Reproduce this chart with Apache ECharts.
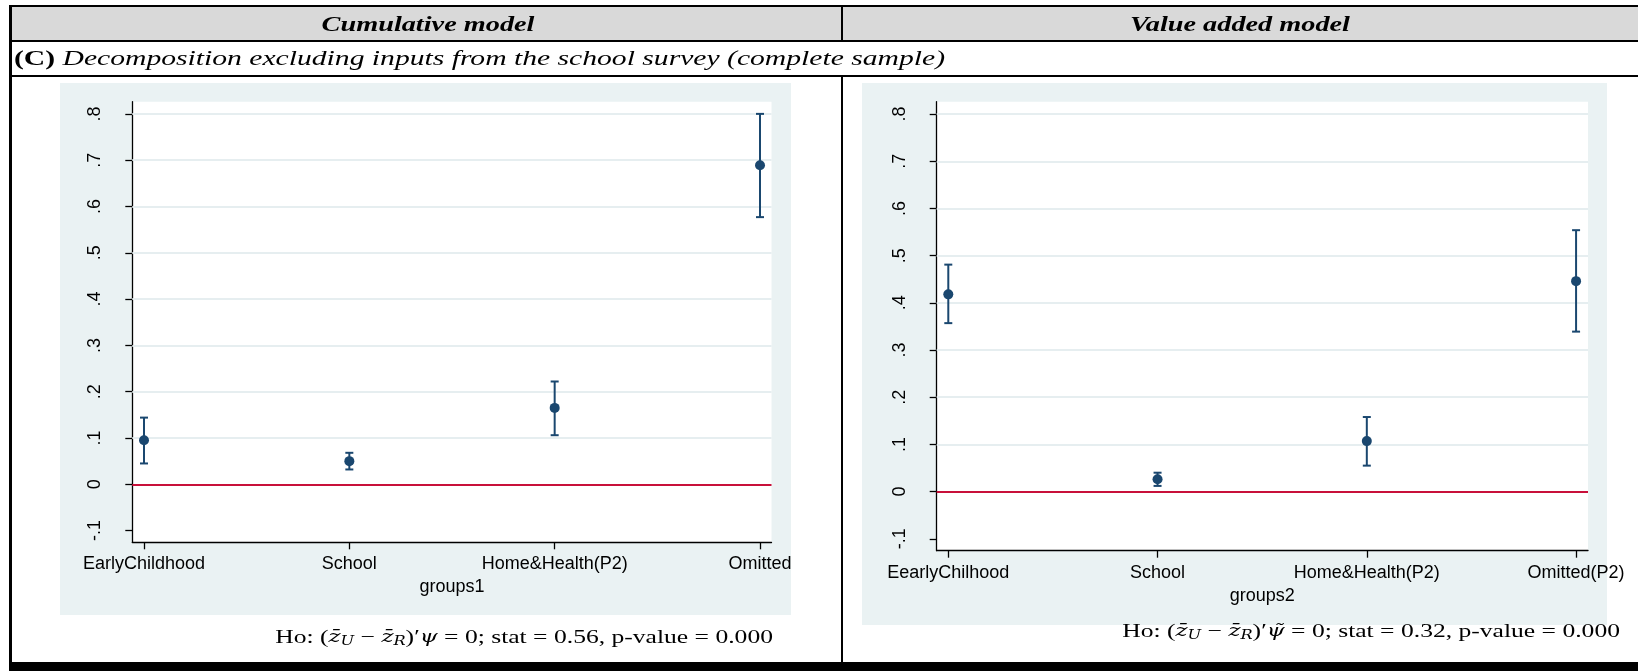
<!DOCTYPE html>
<html><head><meta charset="utf-8">
<script src="https://cdn.jsdelivr.net/npm/echarts@6/dist/echarts.min.js"></script>
<style>html,body{margin:0;padding:0;background:#fff}#c{width:1638px;height:671px}</style>
</head><body><div id="c"></div>
<script>
// ---------------- data ----------------
const categories1 = ['EarlyChildhood', 'School', 'Home&Health(P2)', 'Omitted'];
const categories2 = ['EearlyChilhood', 'School', 'Home&Health(P2)', 'Omitted(P2)'];
const xPos = [1, 2, 3, 4];
const est1 = [0.095, 0.050, 0.165, 0.689];
const lo1  = [0.045, 0.032, 0.106, 0.577];
const hi1  = [0.144, 0.068, 0.222, 0.800];
const est2 = [0.418, 0.026, 0.107, 0.446];
const lo2  = [0.357, 0.012, 0.055, 0.339];
const hi2  = [0.481, 0.040, 0.158, 0.554];
const yTickValues = [-0.1, 0, 0.1, 0.2, 0.3, 0.4, 0.5, 0.6, 0.7, 0.8];
const yTickLabels = ['-.1', '0', '.1', '.2', '.3', '.4', '.5', '.6', '.7', '.8'];
const gridValues = [0.1, 0.2, 0.3, 0.4, 0.5, 0.6, 0.7, 0.8];
const refValues = [0];
const xTitle1 = 'groups1';
const xTitle2 = 'groups2';
const headerLeft = 'Cumulative model';
const headerRight = 'Value added model';
const panelLabel = '(C)';
const panelTitle = ' Decomposition excluding inputs from the school survey (complete sample)';
const stat1 = 'stat = 0.56, p-value = 0.000';
const stat2 = 'stat = 0.32, p-value = 0.000';

// ---------------- style ----------------
const NAVY = '#1a476f';
const RED = '#c8103a';
const PANEL = '#eaf2f3';
const GRIDC = '#e6eef0';
const SANS = 'Liberation Sans, Arial, sans-serif';
const SERIF = 'Liberation Serif, Times New Roman, serif';
const MATH = 'DejaVu Serif, Liberation Serif, serif';

const chart = echarts.init(document.getElementById('c'), null, {renderer: 'canvas', width: 1638, height: 671});

function yLabel(v) {
  for (let i = 0; i < yTickValues.length; i++) if (Math.abs(yTickValues[i] - v) < 1e-9) return yTickLabels[i];
  return '';
}

function yAxisOpt(gi) {
  return {
    type: 'value', gridIndex: gi, min: -0.1253, max: 0.8263,
    axisLine: {show: true, onZero: false, lineStyle: {color: '#000', width: 1.3}},
    axisTick: {show: true, length: 7, customValues: yTickValues, lineStyle: {color: '#000', width: 1.3}},
    axisLabel: {show: true, customValues: yTickValues, rotate: 90, margin: 28, fontSize: 18,
      fontFamily: SANS, color: '#000', formatter: yLabel},
    splitLine: {show: false}
  };
}
function xAxisOpt(gi, cats, name, min, max, gap) {
  return {
    type: 'value', gridIndex: gi, min: min, max: max,
    axisLine: {show: true, onZero: false, lineStyle: {color: '#000', width: 1.3}},
    axisTick: {show: true, length: 7, customValues: xPos, lineStyle: {color: '#000', width: 1.3}},
    axisLabel: {show: true, customValues: xPos, margin: 13, fontSize: 18, fontFamily: SANS, color: '#000',
      formatter: v => cats[Math.round(v) - 1] || ''},
    splitLine: {show: false},
    name: name, nameLocation: 'middle', nameGap: gap,
    nameTextStyle: {fontSize: 18, fontFamily: SANS, color: '#000'}
  };
}

function errRender(params, api) {
  const x = api.value(0), lo = api.value(1), hi = api.value(2);
  const a = api.coord([x, lo]), b = api.coord([x, hi]);
  const cw = 4;
  const st = {stroke: NAVY, lineWidth: 2, fill: null};
  return {type: 'group', children: [
    {type: 'line', shape: {x1: a[0], y1: a[1], x2: b[0], y2: b[1]}, style: st},
    {type: 'line', shape: {x1: a[0] - cw, y1: a[1], x2: a[0] + cw, y2: a[1]}, style: st},
    {type: 'line', shape: {x1: b[0] - cw, y1: b[1], x2: b[0] + cw, y2: b[1]}, style: st}
  ]};
}

function seriesFor(gi, est, lo, hi) {
  return [
    {type: 'line', xAxisIndex: gi, yAxisIndex: gi, data: [], silent: true, z: 1,
      markLine: {silent: true, z: 1, symbol: 'none', label: {show: false},
        lineStyle: {color: GRIDC, width: 2, type: 'solid'},
        data: gridValues.map(v => ({yAxis: v}))}},
    {type: 'line', xAxisIndex: gi, yAxisIndex: gi, data: [], silent: true, z: 2,
      markLine: {silent: true, z: 2, symbol: 'none', label: {show: false},
        lineStyle: {color: RED, width: 2, type: 'solid'},
        data: refValues.map(v => ({yAxis: v}))}},
    {type: 'custom', xAxisIndex: gi, yAxisIndex: gi, renderItem: errRender, z: 9, clip: false,
      encode: {x: 0, y: [1, 2]},
      data: xPos.map((x, i) => [x, lo[i], hi[i]])},
    {type: 'scatter', xAxisIndex: gi, yAxisIndex: gi, symbol: 'circle', symbolSize: 10, z: 10, clip: false,
      itemStyle: {color: NAVY, opacity: 1},
      data: xPos.map((x, i) => [x, est[i]])}
  ];
}

// text stretch (the table text in the reference is horizontally stretched)
const mctx = document.createElement('canvas').getContext('2d');
function tw(font, s) { mctx.font = font; return mctx.measureText(s).width; }
const natRow2 = tw('bold 22px ' + SERIF, panelLabel) + tw('italic 22px ' + SERIF, panelTitle);
const S = (945 - 14) / natRow2;

function mathRich(tilde, stat) {
  return '{n|Ho: }{m|(}{i|z\u0304}{s|U}{m| \u2212 }{i|z\u0304}{s|R}{m|)\u2032}{i|' + (tilde ? '\u03c8\u0303' : '\u03c8') + '}{m| = 0}{n|; ' + stat + '}';
}
const richMath = {
  n: {fontFamily: SERIF, fontSize: 19, fill: '#000'},
  m: {fontFamily: SERIF, fontSize: 19, fill: '#000'},
  i: {fontFamily: MATH, fontSize: 17, fontStyle: 'italic', fill: '#000'},
  s: {fontFamily: MATH, fontSize: 12, fontStyle: 'italic', fill: '#000', verticalAlign: 'bottom'}
};

function rect(x, y, w, h, fill, z) {
  return {type: 'rect', z: z, silent: true, shape: {x: x, y: y, width: w, height: h}, style: {fill: fill}};
}

const graphics = [
  rect(12, 7, 1626, 33, '#d9d9d9', -20),
  rect(60, 83, 731, 532, PANEL, -10),
  rect(862, 83, 745, 542, PANEL, -10),
  rect(9, 5, 1629, 2, '#000', 50),
  rect(9, 5, 3, 666, '#000', 50),
  rect(9, 40, 1629, 2, '#000', 50),
  rect(9, 75, 1629, 2, '#000', 50),
  rect(841, 5, 2, 36, '#000', 50),
  rect(841, 75, 2, 590, '#000', 50),
  rect(9, 662, 1629, 9, '#000', 50),
  {type: 'text', z: 60, x: 428, y: 26, scaleX: S, silent: true,
    style: {text: headerLeft, font: 'italic bold 21px ' + SERIF, fill: '#000',
      align: 'center', verticalAlign: 'middle', textAlign: 'center', textVerticalAlign: 'middle'}},
  {type: 'text', z: 60, x: 1240, y: 26, scaleX: S, silent: true,
    style: {text: headerRight, font: 'italic bold 21px ' + SERIF, fill: '#000',
      align: 'center', verticalAlign: 'middle', textAlign: 'center', textVerticalAlign: 'middle'}},
  {type: 'text', z: 60, x: 14, y: 59, scaleX: S, silent: true,
    style: {text: '{b|' + panelLabel + '}{t|' + panelTitle + '}',
      rich: {b: {fontFamily: SERIF, fontSize: 22, fontWeight: 'bold', fill: '#000'},
             t: {fontFamily: SERIF, fontSize: 22, fontStyle: 'italic', fill: '#000'}},
      align: 'left', verticalAlign: 'middle', textAlign: 'left', textVerticalAlign: 'middle'}},
  {type: 'text', z: 60, x: 773, y: 638, scaleX: S, silent: true,
    style: {text: mathRich(false, stat1), rich: richMath,
      align: 'right', verticalAlign: 'middle', textAlign: 'right', textVerticalAlign: 'middle'}},
  {type: 'text', z: 60, x: 1620, y: 632, scaleX: S, silent: true,
    style: {text: mathRich(true, stat2), rich: richMath,
      align: 'right', verticalAlign: 'middle', textAlign: 'right', textVerticalAlign: 'middle'}}
];

const option = {
  animation: false,
  backgroundColor: '#fff',
  grid: [
    {left: 132.3, top: 101.7, width: 639.2, height: 440.6, show: true, backgroundColor: '#fff', borderWidth: 0},
    {left: 936.7, top: 101.7, width: 651.3, height: 449, show: true, backgroundColor: '#fff', borderWidth: 0}
  ],
  xAxis: [
    xAxisOpt(0, categories1, xTitle1, 0.943, 4.056, 33),
    xAxisOpt(1, categories2, xTitle2, 0.9446, 4.057, 32)
  ],
  yAxis: [yAxisOpt(0), yAxisOpt(1)],
  graphic: {elements: graphics},
  series: [].concat(seriesFor(0, est1, lo1, hi1), seriesFor(1, est2, lo2, hi2))
};
chart.setOption(option);
</script>
</body></html>
